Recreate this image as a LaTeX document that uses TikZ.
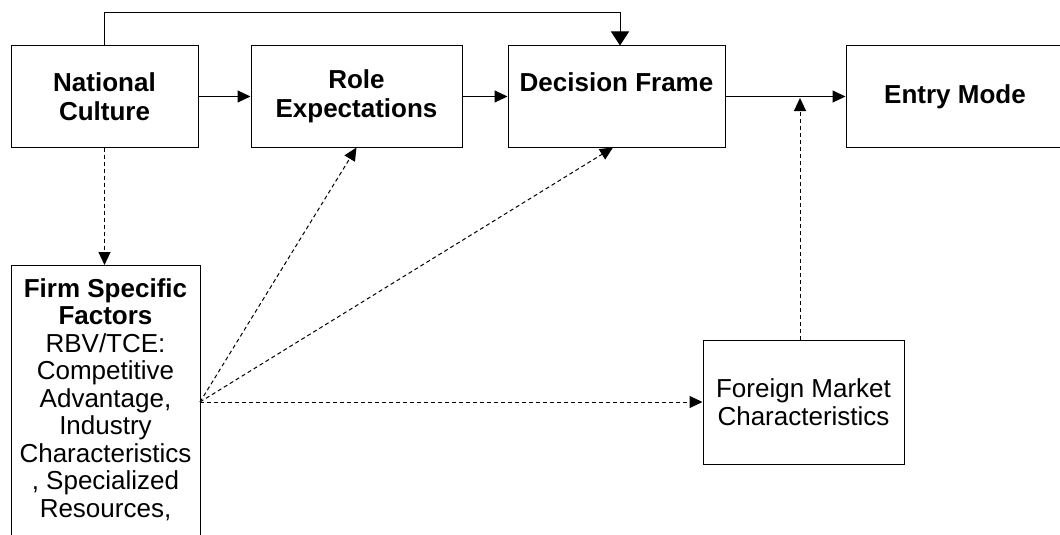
\documentclass[tikz,border=0pt]{standalone}
\usepackage{fontspec}
\setmainfont{Liberation Sans}
\usetikzlibrary{arrows.meta,calc}
\begin{document}
\begin{tikzpicture}[x=1pt,y=-1pt, line width=1pt,
  box/.style={draw, inner sep=0pt, align=center},
  tb/.style={font=\fontsize{26}{29}\selectfont\bfseries},
  tr/.style={font=\fontsize{26}{28}\selectfont},
  ar/.style={-{Triangle[length=13pt,width=12pt]}},
  dar/.style={ar, dash pattern=on 4pt off 3pt}]
\clip (0,0) rectangle (1060,535);
\fill[white] (0,0) rectangle (1060,535);
\node[box, tb, minimum width=187pt, minimum height=101pt] (nc) at (104.5,96.5) {National\\Culture};
\node[box, tb, minimum width=211pt, minimum height=101pt] (re) at (356.5,96.5) {Role\\Expectations};
\node[box, tb, minimum width=217pt, minimum height=101pt] (df) at (616.5,96.5) {Decision Frame\\\mbox{}};
\node[box, tb, minimum width=218pt, minimum height=101pt] (em) at (955,96.5) {Entry Mode};
\node[box, tr, minimum width=201pt, minimum height=124pt] (fm) at (803.5,402) {Foreign Market\\Characteristics};
\node[draw, align=center, anchor=north, minimum width=189pt, inner xsep=0pt, inner ysep=13pt,
      font=\fontsize{26}{27.5}\selectfont] (fsf) at (105.5,265)
  {\textbf{Firm Specific}\\\textbf{Factors}\\RBV/TCE:\\Competitive\\Advantage,\\Industry\\Characteristics\\, Specialized\\Resources,\\[40pt]\mbox{}};
\coordinate (src) at (200,402);
\draw[ar] (nc) -- (re);
\draw[ar] (re) -- (df);
\draw[ar] (df) -- (em);
\draw[-{Triangle[length=14pt,width=18pt]}] (nc.north) -- ++(0,-33) -| ($(df.north)+(3.5,0)$);
\draw[dar] (nc.south) -- (nc.south |- fsf.north);
\draw[dar] (src) -- (re.south);
\draw[dar] (src) -- ($(df.south)+(-3.5,0)$);
\draw[dar] (src) -- (fm.west);
\draw[dar] (fm.north -| 800,0) -- ($(df.east -| 800,0)+(0,1.5)$);
\end{tikzpicture}
\end{document}
